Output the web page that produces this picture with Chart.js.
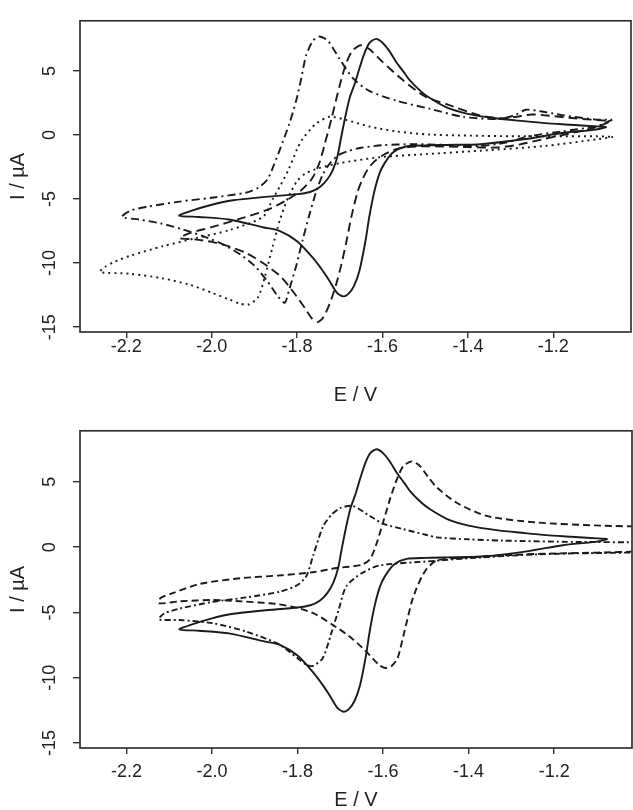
<!DOCTYPE html>
<html>
<head>
<meta charset="utf-8">
<script src="https://cdn.jsdelivr.net/npm/chart.js@4/dist/chart.umd.min.js"></script>
<style>
  html, body { margin: 0; padding: 0; background: #fff; overflow: hidden; }
  canvas { position: absolute; left: 0; }
  #c1 { top: 0; }
  #c2 { top: 410px; }
</style>
</head>
<body>
<canvas id="c1" width="633" height="420"></canvas>
<canvas id="c2" width="633" height="410"></canvas>
<script>
// ---------- axis ticks ----------
const xTicks = [-2.2, -2.0, -1.8, -1.6, -1.4, -1.2];
const yTicks = [-15, -10, -5, 0, 5];
const xRange = [-2.3085, -1.018];
const yRange = [-15.38, 8.91];

// ---------- top panel: solid curve (loop: cathodic sweep then anodic sweep) ----------
const solidE = [-1.075,-1.10,-1.18,-1.26,-1.37,-1.45,-1.50,-1.545,-1.575,-1.595,-1.607,-1.619,-1.631,-1.640,-1.654,-1.667,-1.680,-1.692,-1.707,-1.724,-1.74,-1.763,-1.80,-1.84,-1.88,-1.96,-2.03,-2.076,
  -2.05,-2.0,-1.95,-1.88,-1.80,-1.77,-1.748,-1.73,-1.716,-1.705,-1.697,-1.686,-1.676,-1.665,-1.654,-1.642,-1.630,-1.615,-1.600,-1.585,-1.568,-1.55,-1.537,-1.51,-1.49,-1.45,-1.40,-1.335,-1.27,-1.218,-1.16,-1.124,-1.075];
const solidI = [0.62,0.42,0.15,-0.30,-0.72,-0.78,-0.82,-0.9,-1.35,-2.2,-3.0,-4.4,-6.4,-8.3,-10.6,-11.8,-12.4,-12.6,-12.3,-11.4,-10.6,-9.6,-8.3,-7.5,-7.2,-6.6,-6.4,-6.3,
  -5.95,-5.45,-5.1,-4.85,-4.62,-4.45,-4.1,-3.5,-2.7,-1.6,-0.2,1.6,3.0,4.0,5.2,6.4,7.2,7.5,7.2,6.6,5.7,4.9,4.3,3.4,2.9,2.15,1.65,1.3,1.08,0.92,0.8,0.72,0.62];

// top panel: dashed curve
const dashE = [-1.07,-1.10,-1.15,-1.22,-1.28,-1.33,-1.40,-1.50,-1.54,-1.568,-1.60,-1.62,-1.635,-1.646,-1.658,-1.673,-1.685,-1.697,-1.709,-1.724,-1.74,-1.752,-1.766,-1.78,-1.81,-1.84,-1.88,-1.92,-1.96,-2.0,-2.04,-2.075,
  -2.05,-2.0,-1.935,-1.87,-1.825,-1.79,-1.765,-1.748,-1.736,-1.72,-1.70,-1.685,-1.67,-1.65,-1.631,-1.60,-1.553,-1.50,-1.45,-1.374,-1.32,-1.29,-1.25,-1.21,-1.15,-1.07];
const dashI = [1.0,0.6,0.2,-0.3,-0.75,-0.98,-0.95,-0.88,-0.95,-1.1,-1.6,-2.1,-2.7,-3.4,-4.4,-6.4,-8.4,-10.2,-11.7,-13.2,-14.3,-14.6,-14.3,-13.6,-12.2,-11.0,-10.0,-9.2,-8.7,-8.35,-8.15,-8.05,
  -7.65,-7.2,-6.55,-5.85,-5.1,-4.3,-3.4,-2.2,-0.8,1.2,3.9,5.6,6.6,7.0,6.7,5.7,4.3,3.0,2.4,1.55,1.3,1.4,1.6,1.5,1.3,1.1];

// top panel: dash-dot curve
const dotDashE = [-1.062,-1.08,-1.10,-1.179,-1.257,-1.311,-1.374,-1.45,-1.53,-1.60,-1.65,-1.68,-1.705,-1.725,-1.74,-1.755,-1.771,-1.787,-1.802,-1.818,-1.829,-1.845,-1.87,-1.90,-1.93,-1.97,-2.02,-2.07,-2.12,-2.17,-2.21,
  -2.19,-2.15,-2.075,-2.0,-1.92,-1.89,-1.87,-1.855,-1.84,-1.818,-1.802,-1.79,-1.779,-1.763,-1.748,-1.728,-1.701,-1.67,-1.631,-1.568,-1.49,-1.413,-1.327,-1.29,-1.264,-1.23,-1.179,-1.10,-1.062];
const dotDashI = [1.2,0.9,0.66,0.28,-0.1,-0.6,-0.86,-0.78,-0.72,-0.8,-1.0,-1.25,-1.6,-2.3,-3.1,-4.4,-6.2,-8.2,-10.2,-12.0,-13.1,-12.6,-11.4,-10.2,-9.4,-8.6,-7.9,-7.35,-6.9,-6.6,-6.4,
  -5.9,-5.6,-5.2,-4.9,-4.5,-4.1,-3.5,-2.4,-1.1,0.9,2.7,4.45,6.2,7.35,7.68,7.35,5.96,4.45,3.44,2.68,2.05,1.42,1.24,1.55,1.97,1.85,1.55,1.2,1.2];

// top panel: dotted curve
const dotE = [-1.06,-1.10,-1.22,-1.37,-1.50,-1.607,-1.70,-1.75,-1.78,-1.80,-1.82,-1.84,-1.858,-1.875,-1.892,-1.915,-1.935,-1.958,-1.997,-2.051,-2.114,-2.192,-2.262,
  -2.25,-2.231,-2.192,-2.114,-2.036,-1.958,-1.88,-1.857,-1.84,-1.82,-1.80,-1.787,-1.755,-1.724,-1.685,-1.631,-1.568,-1.49,-1.40,-1.30,-1.20,-1.10,-1.06];
const dotI = [-0.15,-0.35,-0.86,-1.23,-1.5,-1.74,-2.2,-2.6,-3.0,-3.6,-4.8,-6.6,-8.8,-11.0,-12.7,-13.25,-13.15,-12.85,-12.35,-11.7,-11.2,-10.83,-10.7,
  -10.3,-9.95,-9.44,-8.68,-8.05,-7.42,-6.4,-5.0,-4.0,-2.7,-1.1,-0.3,0.9,1.42,1.17,0.66,0.28,0.03,-0.05,-0.1,-0.1,-0.1,-0.15];

// ---------- bottom panel: dashed curve ----------
const bDashE = [-0.99,-1.10,-1.241,-1.397,-1.475,-1.498,-1.51,-1.522,-1.533,-1.552,-1.566,-1.58,-1.595,-1.61,-1.642,-1.68,-1.72,-1.76,-1.80,-1.85,-1.93,-2.0,-2.075,-2.124,
  -2.12,-2.095,-2.027,-1.93,-1.835,-1.76,-1.709,-1.65,-1.63,-1.615,-1.60,-1.584,-1.568,-1.553,-1.533,-1.515,-1.495,-1.475,-1.428,-1.358,-1.241,-1.086,-0.99];
const bDashI = [-0.32,-0.42,-0.52,-0.77,-1.02,-1.66,-2.3,-3.18,-4.19,-6.72,-8.5,-9.1,-9.25,-9.0,-7.9,-6.8,-5.9,-5.1,-4.65,-4.35,-4.15,-4.05,-4.15,-4.3,
  -3.9,-3.56,-2.8,-2.37,-2.15,-1.9,-1.6,-1.35,-0.9,0.3,1.89,3.66,5.17,6.19,6.57,6.25,5.4,4.6,3.4,2.39,1.89,1.64,1.58];

// bottom panel: dash-dot curve
const bDotDashE = [-0.99,-1.10,-1.241,-1.40,-1.50,-1.608,-1.65,-1.686,-1.703,-1.722,-1.741,-1.764,-1.78,-1.80,-1.841,-1.919,-1.997,-2.075,-2.124,
  -2.12,-2.11,-2.075,-2.0,-1.92,-1.84,-1.80,-1.779,-1.763,-1.74,-1.72,-1.70,-1.67,-1.631,-1.60,-1.553,-1.50,-1.475,-1.40,-1.319,-1.15,-0.99];
const bDotDashI = [-0.4,-0.45,-0.55,-0.85,-1.1,-1.4,-2.0,-3.0,-4.7,-6.7,-8.5,-9.1,-9.0,-8.5,-7.48,-6.47,-5.83,-5.58,-5.55,
  -5.3,-5.05,-4.7,-4.2,-3.85,-3.4,-2.9,-2.2,-0.6,1.6,2.5,3.0,3.15,2.39,1.8,1.38,0.95,0.75,0.6,0.5,0.4,0.37];

// ---------- helpers ----------
const FONT = '"Liberation Sans", Arial, Helvetica, sans-serif';
const INK = '#1a1a1a';

function pts(E, I) { return E.map((e, i) => ({ x: e, y: I[i] })); }
function curve(E, I, dash) {
  return {
    data: pts(E, I), showLine: true, borderColor: INK, borderWidth: 1.9,
    borderDash: dash, pointRadius: 0, tension: 0.25, fill: false
  };
}

const framePlugin = {
  id: 'frame',
  afterDatasetsDraw(chart) {
    const { ctx, chartArea: a } = chart;
    ctx.save();
    ctx.strokeStyle = '#333';
    ctx.lineWidth = 1.7;
    ctx.strokeRect(a.left, a.top, a.right - a.left, a.bottom - a.top);
    ctx.restore();
  }
};

function makeChart(id, datasets, geo) {
  return new Chart(document.getElementById(id), {
    type: 'scatter',
    data: { datasets },
    options: {
      responsive: false, animation: false,
      layout: { padding: { top: geo.top, right: geo.right, left: 0, bottom: 0 } },
      plugins: { legend: { display: false }, tooltip: { enabled: false } },
      scales: {
        x: {
          type: 'linear', position: 'bottom', min: xRange[0], max: xRange[1],
          afterBuildTicks: s => { s.ticks = xTicks.map(v => ({ value: v })); },
          afterFit: s => { s.height = geo.xh; },
          grid: { display: true, drawOnChartArea: false, drawTicks: true, tickLength: 6, color: '#333', lineWidth: 1.4 },
          border: { display: false },
          ticks: { color: '#222', font: { family: FONT, size: 18 }, padding: geo.xpad, maxRotation: 0, autoSkip: false,
                   callback: v => Number(v).toFixed(1) },
          title: { display: true, text: 'E / V', color: '#222', font: { family: FONT, size: 20 },
                   padding: { top: 0, bottom: geo.tpad } }
        },
        y: {
          type: 'linear', position: 'left', min: yRange[0], max: yRange[1],
          afterBuildTicks: s => { s.ticks = yTicks.map(v => ({ value: v })); },
          afterFit: s => { s.width = 80; },
          grid: { display: true, drawOnChartArea: false, drawTicks: true, tickLength: 7, color: '#333', lineWidth: 1.4 },
          border: { display: false },
          ticks: { color: '#222', font: { family: FONT, size: 18 }, padding: 10, minRotation: 90, maxRotation: 90,
                   crossAlign: 'center', autoSkip: false, callback: v => String(v) },
          title: { display: true, text: 'I / µA', color: '#222', font: { family: FONT, size: 20 },
                   padding: { top: 6.5, bottom: 0 } }
        }
      }
    },
    plugins: [framePlugin]
  });
}

makeChart('c1', [
  curve(solidE, solidI, []),
  curve(dashE, dashI, [9, 5]),
  curve(dotDashE, dotDashI, [8, 4, 2, 4]),
  curve(dotE, dotI, [2, 4])
], { top: 11, right: 2, xh: 88, xpad: -2, tpad: 13 });

makeChart('c2', [
  curve(solidE, solidI, []),
  curve(bDashE, bDashI, [7, 4]),
  curve(bDotDashE, bDotDashI, [6, 3, 2, 3])
], { top: 18, right: 1, xh: 72, xpad: 7, tpad: 8 });
</script>
</body>
</html>
